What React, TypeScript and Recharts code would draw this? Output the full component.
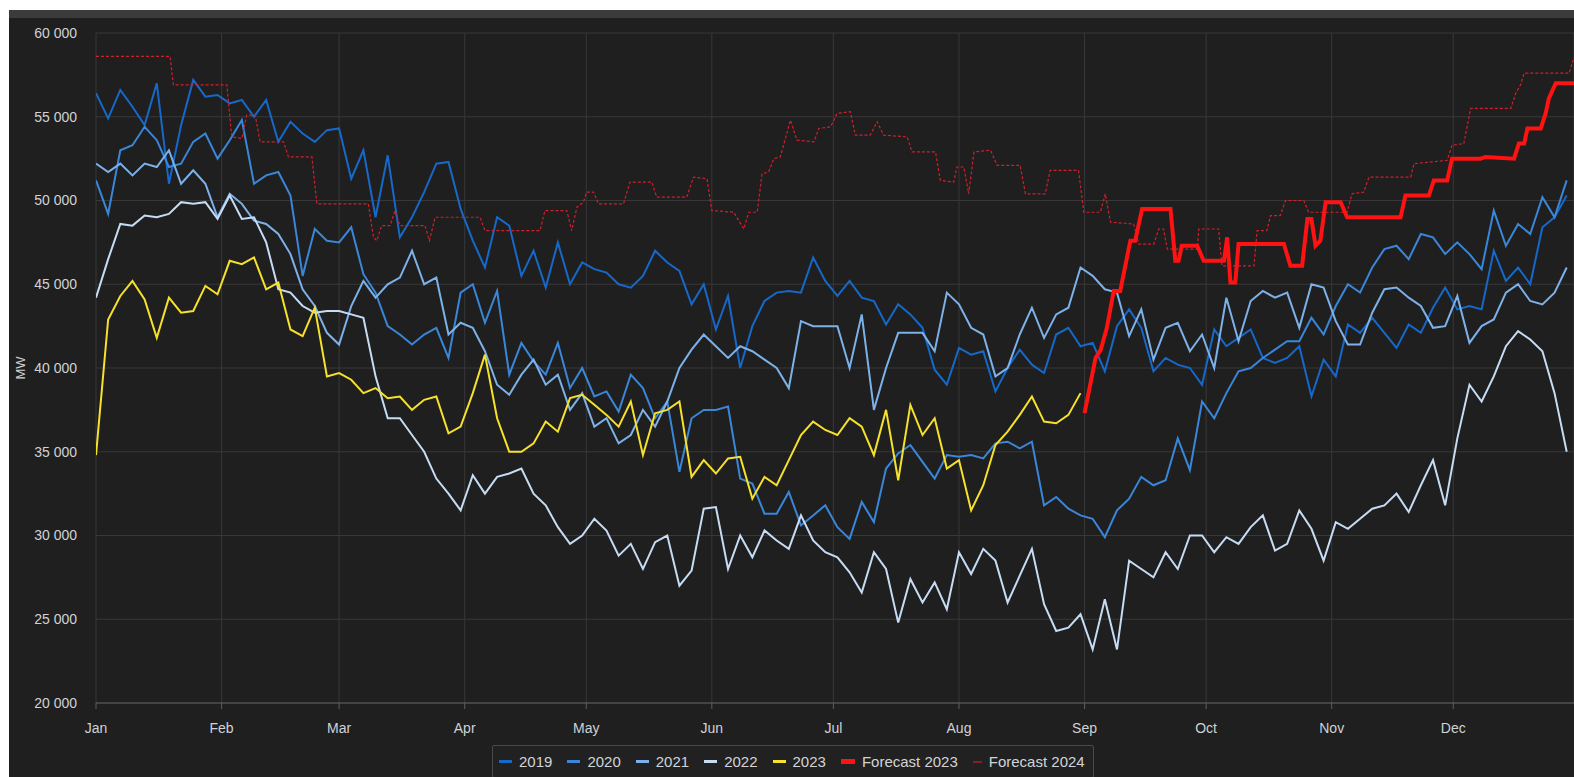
import React from 'react';
import { LineChart, Line, XAxis, YAxis, CartesianGrid, Legend } from 'recharts';

// Values in thousands of MW, one sample every 3 days (day 0, 3, 6, ... 363)
const STEP_DAYS = 3;

// Month starts on a leap-year calendar (day of year)
const monthTicks = [0, 31, 60, 91, 121, 152, 182, 213, 244, 274, 305, 335];
const monthLabels = ['Jan', 'Feb', 'Mar', 'Apr', 'May', 'Jun', 'Jul', 'Aug', 'Sep', 'Oct', 'Nov', 'Dec'];
const yTicks = [20, 25, 30, 35, 40, 45, 50, 55, 60];

const load2019 = [
  56.4, 54.9, 56.6, 55.6, 54.5, 57.0, 51.0, 54.5, 57.2, 56.2,
  56.3, 55.8, 56.0, 55.0, 56.0, 53.5, 54.7, 54.0, 53.5, 54.2,
  54.3, 51.3, 53.0, 49.0, 52.7, 47.8, 49.0, 50.5, 52.2, 52.3,
  49.5, 47.6, 46.0, 49.0, 48.5, 45.5, 47.0, 44.8, 47.5, 45.0,
  46.3, 45.9, 45.7, 45.0, 44.8, 45.5, 47.0, 46.3, 45.8, 43.8,
  45.0, 42.3, 44.3, 40.0, 42.5, 44.0, 44.5, 44.6, 44.5, 46.6,
  45.2, 44.3, 45.2, 44.2, 44.0, 42.6, 43.8, 43.2, 42.4, 39.9,
  39.0, 41.2, 40.8, 41.0, 38.6, 40.0, 41.1, 40.2, 39.7, 42.0,
  42.4, 41.3, 41.5, 39.8, 42.5, 43.5, 42.4, 39.8, 40.6, 40.2,
  40.0, 39.0, 42.3, 41.3, 41.8, 42.3, 40.6, 40.3, 40.6, 41.3,
  38.3, 40.5, 39.5, 42.6, 42.1, 43.0, 42.1, 41.2, 42.6, 42.1,
  43.6, 44.8, 43.5, 43.7, 43.5, 47.0, 45.2, 46.0, 45.0, 48.4, 49.0, 50.3,
];

const load2020 = [
  51.2, 49.2, 53.0, 53.3, 54.4, 53.6, 52.0, 52.2, 53.5, 54.0,
  52.5, 53.6, 54.8, 51.0, 51.5, 51.7, 50.3, 45.5, 48.3, 47.6,
  47.5, 48.4, 45.6, 44.5, 42.5, 42.0, 41.4, 42.0, 42.4, 40.6,
  44.5, 45.0, 42.7, 44.6, 39.6, 41.5, 40.4, 39.6, 41.5, 38.8,
  40.0, 38.3, 38.6, 37.4, 39.6, 38.8, 37.0, 38.0, 33.8, 37.0,
  37.5, 37.5, 37.7, 33.4, 33.1, 31.3, 31.3, 32.6, 30.6, 31.2,
  31.8, 30.5, 29.8, 32.0, 30.8, 34.0, 34.9, 35.4, 34.4, 33.4,
  34.8, 34.7, 34.8, 34.6, 35.5, 35.6, 35.2, 35.6, 31.8, 32.3,
  31.6, 31.2, 31.0, 29.9, 31.5, 32.2, 33.5, 33.0, 33.3, 35.8,
  33.9, 38.0, 37.0, 38.5, 39.8, 40.0, 40.6, 41.1, 41.6, 41.6,
  43.0, 42.0, 43.7, 45.0, 44.5, 46.0, 47.1, 47.3, 46.5, 48.0,
  47.8, 46.8, 47.5, 46.8, 45.9, 49.4, 47.3, 48.6, 48.0, 50.2, 49.0, 51.2,
];

const load2021 = [
  52.2, 51.7, 52.2, 51.5, 52.2, 52.0, 53.0, 51.0, 51.8, 51.0,
  49.0, 50.4, 49.8, 48.8, 48.6, 48.0, 46.8, 44.7, 43.7, 42.1,
  41.4, 43.7, 45.2, 44.2, 45.0, 45.4, 47.0, 45.0, 45.4, 42.0,
  42.7, 42.4, 41.0, 39.0, 38.4, 39.6, 40.5, 39.0, 39.6, 37.5,
  38.5, 36.5, 37.0, 35.5, 36.0, 37.5, 36.5, 38.0, 40.0, 41.1,
  42.0, 41.3, 40.6, 41.3, 41.0, 40.5, 40.0, 38.8, 42.8, 42.5,
  42.5, 42.5, 40.0, 43.2, 37.5, 40.0, 42.1, 42.1, 42.1, 41.0,
  44.5, 43.8, 42.4, 42.0, 39.5, 40.0, 42.0, 43.6, 41.8, 43.2,
  43.6, 46.0, 45.5, 44.7, 44.5, 41.9, 43.5, 40.5, 42.4, 42.7,
  41.0, 42.0, 40.0, 44.2, 41.6, 44.0, 44.6, 44.2, 44.5, 42.4,
  45.0, 44.8, 42.8, 41.4, 41.4, 43.3, 44.7, 44.8, 44.2, 43.7,
  42.4, 42.5, 44.3, 41.5, 42.5, 42.9, 44.5, 45.0, 44.0, 43.8, 44.5, 46.0,
];

const load2022 = [
  44.2, 46.5, 48.6, 48.5, 49.1, 49.0, 49.2, 49.9, 49.8, 49.9,
  48.9, 50.3, 48.9, 49.0, 47.5, 44.7, 44.5, 43.7, 43.3, 43.4,
  43.4, 43.2, 43.0, 39.5, 37.0, 37.0, 36.0, 35.0, 33.4, 32.5,
  31.5, 33.6, 32.5, 33.5, 33.7, 34.0, 32.5, 31.8, 30.5, 29.5,
  30.0, 31.0, 30.3, 28.8, 29.5, 28.0, 29.6, 30.0, 27.0, 27.9,
  31.6, 31.7, 28.0, 30.0, 28.7, 30.3, 29.7, 29.2, 31.2, 29.7,
  29.0, 28.7, 27.8, 26.6, 29.0, 28.0, 24.8, 27.4, 26.0, 27.2,
  25.6, 29.0, 27.7, 29.2, 28.5, 26.0, 27.6, 29.2, 25.9, 24.3,
  24.5, 25.3, 23.2, 26.2, 23.2, 28.5, 28.0, 27.5, 29.0, 28.0,
  30.0, 30.0, 29.0, 29.9, 29.5, 30.5, 31.2, 29.1, 29.5, 31.5,
  30.4, 28.5, 30.8, 30.4, 31.0, 31.6, 31.8, 32.5, 31.4, 33.0,
  34.5, 31.8, 35.8, 39.0, 38.0, 39.5, 41.3, 42.2, 41.7, 41.0, 38.5, 35.0,
];

const load2023 = [
  34.8, 42.9, 44.3, 45.2, 44.1, 41.8, 44.2, 43.3, 43.4, 44.9,
  44.4, 46.4, 46.2, 46.6, 44.7, 45.1, 42.3, 41.9, 43.6, 39.5,
  39.7, 39.3, 38.5, 38.8, 38.2, 38.3, 37.5, 38.1, 38.3, 36.1,
  36.5, 38.5, 40.8, 37.0, 35.0, 35.0, 35.5, 36.8, 36.2, 38.2,
  38.4, 37.8, 37.2, 36.5, 38.0, 34.8, 37.3, 37.5, 38.0, 33.5,
  34.5, 33.7, 34.6, 34.7, 32.2, 33.5, 33.0, 34.5, 36.0, 36.8,
  36.3, 36.0, 37.0, 36.5, 34.8, 37.5, 33.3, 37.8, 36.0, 37.0,
  34.0, 34.5, 31.5, 33.0, 35.4, 36.2, 37.2, 38.3, 36.8, 36.7,
  37.2, 38.5,
];

// Forecast series: breakpoints (day of year, thousands of MW)
const forecast2023Days = [
  244, 246.7, 248, 249.5, 251.2, 252.8, 255.3, 256.5, 258.2, 265.2,
  266.4, 267.2, 268, 271.8, 273.4, 278.4, 279.2, 280, 281.2, 282,
  293.2, 294.8, 297.7, 299, 300, 301, 302.2, 303.5, 307.2, 308.8,
  322, 323.2, 329, 330.2, 333.5, 334.7, 341.7, 343, 350, 351.2,
  352.5, 353.3, 356.6, 357.8, 358.6, 360.3, 366,
];
const forecast2023Values = [
  37.3, 40.6, 41.1, 42.4, 44.6, 44.6, 47.6, 47.6, 49.5, 49.5,
  46.4, 46.4, 47.3, 47.3, 46.4, 46.4, 47.8, 45.1, 45.1, 47.4,
  47.4, 46.1, 46.1, 48.9, 48.9, 47.3, 47.6, 49.9, 49.9, 49.0,
  49.0, 50.3, 50.3, 51.2, 51.2, 52.5, 52.5, 52.6, 52.5, 53.4,
  53.4, 54.3, 54.3, 55.2, 56.1, 57.0, 57.0,
];

const forecast2024Days = [
  0, 18.3, 19.1, 32.3, 33.5, 36, 37.2, 39.3, 40.5, 46.3,
  47.5, 53.3, 54.5, 67.2, 68.5, 69.3, 70.5, 72.6, 73.8, 75,
  81.2, 82.3, 83.7, 94.8, 96, 109.6, 110.8, 116.2, 117.4, 118.7,
  120.3, 121.1, 122.8, 124, 130.2, 131.8, 137.2, 138.4, 145.8, 147.5,
  150.8, 152, 157.4, 159.9, 161.1, 163.2, 164.4, 166, 167.3, 168.9,
  171.4, 173, 177.2, 178.4, 181.3, 182.9, 186.2, 187.4, 191.1, 192.8,
  194.4, 200.2, 201.4, 207.2, 208.4, 211.7, 212.5, 214.2, 215.4, 216.7,
  220.8, 222.4, 228.1, 229.4, 234.3, 235.5, 242.5, 243.8, 247.9, 249.1,
  250.4, 256.1, 257.4, 261.1, 262.3, 263.5, 264.4, 271.8, 272.2, 277.1,
  277.9, 285.8, 286.6, 289, 289.9, 292.3, 293.6, 298.1, 299.3, 308.8,
  310, 312.9, 314.2, 324.5, 325.3, 333.5, 334.7, 337.6, 339.3, 349.2,
  350.4, 351.6, 352.5, 363.6, 364.6,
];
const forecast2024Values = [
  58.6, 58.6, 56.9, 56.9, 53.8, 53.7, 55.1, 55.1, 53.5, 53.5,
  52.6, 52.6, 49.8, 49.8, 47.8, 47.6, 48.5, 48.5, 49.4, 48.5,
  48.5, 47.6, 49.0, 49.0, 48.2, 48.2, 49.4, 49.4, 48.2, 49.6,
  49.9, 50.5, 50.5, 49.8, 49.8, 51.1, 51.1, 50.2, 50.2, 51.4,
  51.3, 49.4, 49.3, 48.3, 49.3, 49.3, 51.6, 51.7, 52.5, 52.6,
  54.8, 53.6, 53.5, 54.3, 54.4, 55.2, 55.3, 53.9, 53.9, 54.7,
  53.9, 53.8, 52.9, 52.9, 51.2, 51.1, 52.0, 52.0, 50.4, 52.9,
  53.0, 52.1, 52.1, 50.4, 50.4, 51.8, 51.8, 49.3, 49.3, 50.4,
  48.7, 48.6, 47.4, 47.4, 48.3, 48.3, 47.1, 47.1, 48.3, 48.3,
  46.1, 46.1, 48.2, 48.2, 49.1, 49.1, 50.0, 50.0, 49.3, 49.3,
  50.4, 50.5, 51.4, 51.4, 52.2, 52.4, 53.3, 53.4, 55.5, 55.5,
  56.4, 56.9, 57.6, 57.6, 58.4,
];

const COLORS = {
  y2019: '#1668c9',
  y2020: '#3a86d9',
  y2021: '#7db1ea',
  y2022: '#c6dcf4',
  y2023: '#f6e12c',
  f2023: '#ff1212',
  f2024: '#d0202a',
};

const table = load2019.map((_, i) => ({
  day: i * STEP_DAYS,
  y2019: load2019[i],
  y2020: load2020[i],
  y2021: load2021[i],
  y2022: load2022[i],
  y2023: load2023[i],
}));

const f2023Data = forecast2023Days.map((d, i) => ({ day: d, f2023: forecast2023Values[i] }));
const f2024Data = forecast2024Days.map((d, i) => ({ day: d, f2024: forecast2024Values[i] }));

const legendOrder = ['2019', '2020', '2021', '2022', '2023', 'Forecast 2023', 'Forecast 2024'];
const legendSwatch: Record<string, { w: number; h: number; c?: string }> = {
  '2019': { w: 13, h: 3 },
  '2020': { w: 13, h: 3 },
  '2021': { w: 13, h: 3 },
  '2022': { w: 13, h: 3 },
  '2023': { w: 13, h: 3 },
  'Forecast 2023': { w: 14, h: 5 },
  'Forecast 2024': { w: 9, h: 2, c: '#8e1b1f' },
};

const renderLegend = (props: any) => {
  const payload = [...(props.payload || [])].sort(
    (a: any, b: any) => legendOrder.indexOf(a.value) - legendOrder.indexOf(b.value)
  );
  return (
    <div
      style={{
        display: 'inline-flex',
        alignItems: 'center',
        height: 33,
        padding: '0 8px 0 6px',
        border: '1px solid #4a4a4a',
        borderRadius: 2,
        background: '#212121',
        boxSizing: 'border-box',
        fontSize: 15,
        color: '#d2d4d8',
        whiteSpace: 'nowrap',
      }}
    >
      {payload.map((e: any, idx: number) => {
        const s = legendSwatch[e.value] || { w: 13, h: 3 };
        return (
          <span
            key={e.value}
            style={{ display: 'inline-flex', alignItems: 'center', marginLeft: idx === 0 ? 0 : 15 }}
          >
            <span
              style={{
                display: 'inline-block',
                width: s.w,
                height: s.h,
                background: s.c || e.color,
                marginRight: 7,
              }}
            />
            {e.value}
          </span>
        );
      })}
    </div>
  );
};

const formatY = (v: number) => `${v} 000`;
const formatX = (v: number) => {
  const i = monthTicks.indexOf(v);
  return i >= 0 ? monthLabels[i] : '';
};

export default function App() {
  return (
    <div
      style={{
        position: 'absolute',
        left: 9,
        top: 10,
        width: 1565,
        height: 767,
        background: '#1f1f1f',
        overflow: 'hidden',
        fontFamily: '"Liberation Sans", Arial, Helvetica, sans-serif',
      }}
    >
      <div style={{ height: 8, background: '#3b3b3e' }} />
      <LineChart
        width={1565}
        height={759}
        data={table}
        margin={{ top: 15, right: 0, bottom: 44, left: 0 }}
      >
        <CartesianGrid stroke="#383838" strokeWidth={1} />
        <XAxis
          dataKey="day"
          type="number"
          domain={[0, 364.8]}
          ticks={monthTicks}
          interval={0}
          tickFormatter={formatX}
          height={30}
          tickSize={6}
          tickMargin={14}
          axisLine={{ stroke: '#5e5e5e' }}
          tickLine={{ stroke: '#5e5e5e' }}
          tick={{ fill: '#d0d2d6', fontSize: 14 }}
          allowDataOverflow
        />
        <YAxis
          type="number"
          domain={[20, 60]}
          ticks={yTicks}
          interval={0}
          tickFormatter={formatY}
          width={87}
          tickSize={0}
          tickMargin={19}
          axisLine={false}
          tickLine={false}
          tick={{ fill: '#d0d2d6', fontSize: 14 }}
          label={{
            content: (p: any) => {
              const vb = p.viewBox || { x: 0, y: 0, height: 0 };
              const cx = vb.x + 11;
              const cy = vb.y + vb.height / 2;
              return (
                <text
                  x={cx}
                  y={cy}
                  transform={`rotate(-90 ${cx} ${cy})`}
                  textAnchor="middle"
                  dominantBaseline="central"
                  fill="#d0d2d6"
                  fontSize={13}
                >
                  MW
                </text>
              );
            },
          }}
        />
        <Legend
          content={renderLegend}
          layout="horizontal"
          verticalAlign="middle"
          align="center"
          wrapperStyle={{ top: 727, left: 483, width: 'auto', height: 'auto' }}
        />
        <Line name="2019" dataKey="y2019" stroke={COLORS.y2019} strokeWidth={2} dot={false} activeDot={false} isAnimationActive={false} />
        <Line name="2020" dataKey="y2020" stroke={COLORS.y2020} strokeWidth={2} dot={false} activeDot={false} isAnimationActive={false} />
        <Line name="2021" dataKey="y2021" stroke={COLORS.y2021} strokeWidth={2} dot={false} activeDot={false} isAnimationActive={false} />
        <Line name="2022" dataKey="y2022" stroke={COLORS.y2022} strokeWidth={2} dot={false} activeDot={false} isAnimationActive={false} />
        <Line name="2023" dataKey="y2023" stroke={COLORS.y2023} strokeWidth={2} dot={false} activeDot={false} isAnimationActive={false} />
        <Line
          name="Forecast 2024"
          data={f2024Data}
          dataKey="f2024"
          stroke={COLORS.f2024}
          strokeWidth={1.2}
          strokeDasharray="3 2"
          dot={false}
          activeDot={false}
          isAnimationActive={false}
        />
        <Line
          name="Forecast 2023"
          data={f2023Data}
          dataKey="f2023"
          stroke={COLORS.f2023}
          strokeWidth={4}
          dot={false}
          activeDot={false}
          isAnimationActive={false}
        />
      </LineChart>
    </div>
  );
}
